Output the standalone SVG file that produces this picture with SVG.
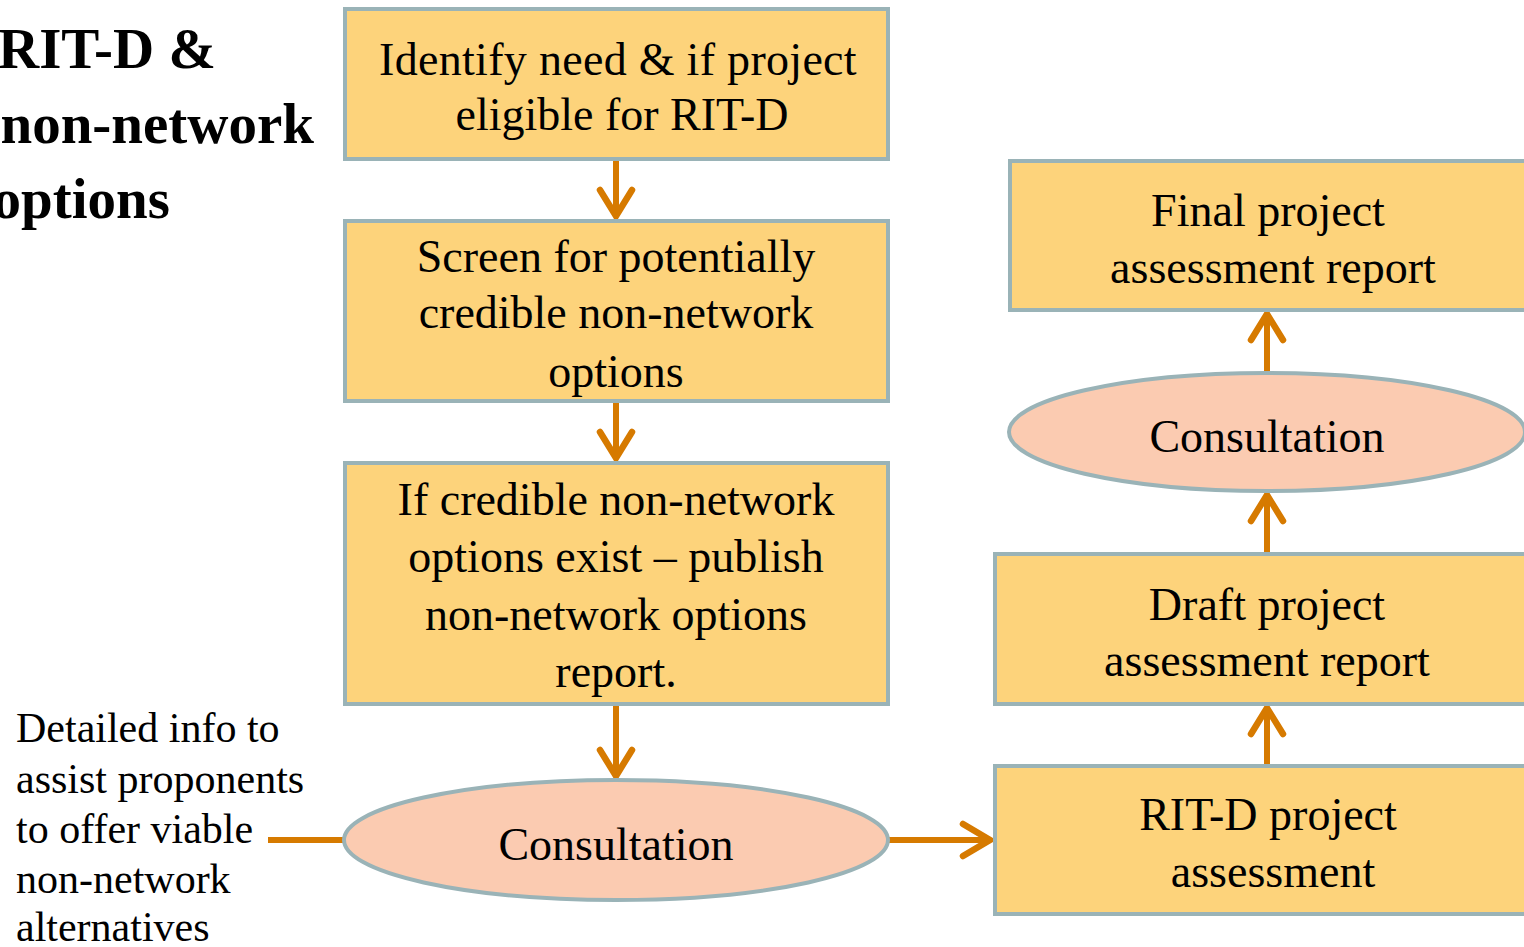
<svg xmlns="http://www.w3.org/2000/svg" width="1524" height="947" viewBox="0 0 1524 947">
<style>
.box{fill:#FDD37B;stroke:#9AB3B7;stroke-width:4}
.ell{fill:#FBCBB1;stroke:#9AB3B7;stroke-width:4}
.t{font-family:"Liberation Serif","Times New Roman",serif;font-size:46px;fill:#000;text-anchor:middle}
.side{font-family:"Liberation Serif","Times New Roman",serif;font-size:42px;fill:#000}
.title{font-family:"Liberation Serif","Times New Roman",serif;font-size:57px;font-weight:bold;fill:#000;text-anchor:end}
.ln{stroke:#D67A00;stroke-width:6;fill:none}
.hd{stroke:#D67A00;stroke-width:6.5;fill:none;stroke-linecap:round;stroke-linejoin:miter}
</style>
<rect width="1524" height="947" fill="#fff"/>
<g id="title">
<text class="title" x="216" y="68">RIT-D &amp;</text>
<text class="title" x="314" y="143">non-network</text>
<text class="title" x="170" y="218">options</text>
</g>
<g id="side-note">
<text class="side" x="16" y="742">Detailed info to</text>
<text class="side" x="16" y="793">assist proponents</text>
<text class="side" x="16" y="843">to offer viable</text>
<text class="side" x="16" y="893">non-network</text>
<text class="side" x="16" y="941">alternatives</text>
</g>
<g id="connectors">
<line class="ln" x1="616" y1="160" x2="616" y2="215"/>
<polyline class="hd" points="600,190 616,216 632,190"/>
<line class="ln" x1="616" y1="402" x2="616" y2="457"/>
<polyline class="hd" points="600,432 616,458 632,432"/>
<line class="ln" x1="616" y1="705" x2="616" y2="775"/>
<polyline class="hd" points="600,750 616,776 632,750"/>
<line class="ln" x1="268" y1="840" x2="345" y2="840"/>
<line class="ln" x1="889" y1="840" x2="989" y2="840"/>
<polyline class="hd" points="963,824 990,840 963,856"/>
<line class="ln" x1="1267" y1="765" x2="1267" y2="710"/>
<polyline class="hd" points="1251,734 1267,708 1283,734"/>
<line class="ln" x1="1267" y1="553" x2="1267" y2="497"/>
<polyline class="hd" points="1251,521 1267,495 1283,521"/>
<line class="ln" x1="1267" y1="372" x2="1267" y2="316"/>
<polyline class="hd" points="1251,340 1267,314 1283,340"/>
</g>
<g id="n1">
<rect class="box" x="345" y="9" width="543" height="150"/>
<text class="t" x="618" y="75" letter-spacing="0.3">Identify need &amp; if  project</text>
<text class="t" x="622" y="130">eligible for RIT-D</text>
</g>
<g id="n2">
<rect class="box" x="345" y="221" width="543" height="180"/>
<text class="t" x="616" y="272">Screen for potentially</text>
<text class="t" x="616" y="328">credible non-network</text>
<text class="t" x="616" y="387">options</text>
</g>
<g id="n3">
<rect class="box" x="345" y="463" width="543" height="241"/>
<text class="t" x="616" y="515">If  credible non-network</text>
<text class="t" x="616" y="572">options exist – publish</text>
<text class="t" x="616" y="630">non-network options</text>
<text class="t" x="616" y="687">report.</text>
</g>
<g id="n4">
<ellipse class="ell" cx="616" cy="840" rx="272" ry="60"/>
<text class="t" x="616" y="860">Consultation</text>
</g>
<g id="n5">
<rect class="box" x="995" y="766" width="560" height="148"/>
<text class="t" x="1268" y="830">RIT-D project</text>
<text class="t" x="1273" y="887">assessment</text>
</g>
<g id="n6">
<rect class="box" x="995" y="554" width="560" height="150"/>
<text class="t" x="1267" y="620">Draft project</text>
<text class="t" x="1267" y="676">assessment report</text>
</g>
<g id="n7">
<ellipse class="ell" cx="1267" cy="432" rx="258" ry="59"/>
<text class="t" x="1267" y="452">Consultation</text>
</g>
<g id="n8">
<rect class="box" x="1010" y="161" width="560" height="149"/>
<text class="t" x="1268" y="226">Final project</text>
<text class="t" x="1273" y="283">assessment report</text>
</g>
</svg>
